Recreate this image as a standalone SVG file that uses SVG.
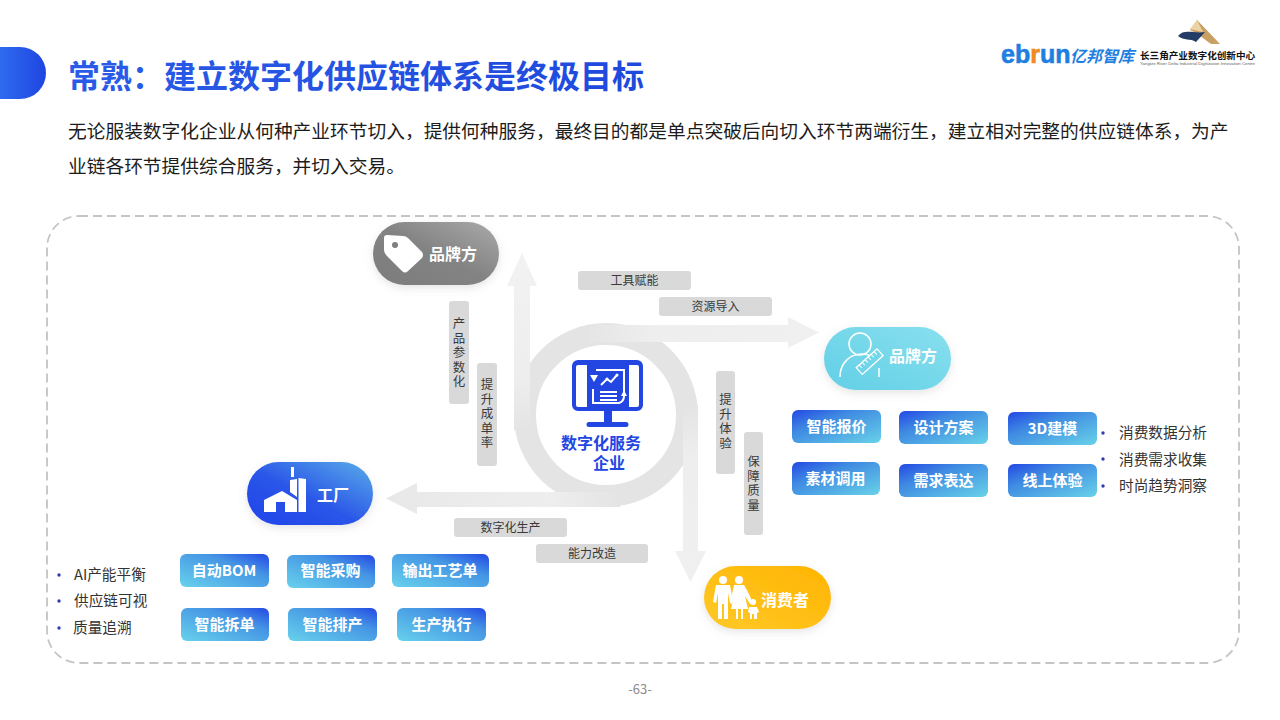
<svg xmlns="http://www.w3.org/2000/svg" width="1280" height="720" viewBox="0 0 1280 720">
<defs>
<linearGradient id="gTitle" x1="0" y1="0" x2="1" y2="0"><stop offset="0" stop-color="#2a5be8"/><stop offset="1" stop-color="#1f49dd"/></linearGradient>
<linearGradient id="gTab" x1="0" y1="0" x2="1" y2="0"><stop offset="0" stop-color="#2e6bf0"/><stop offset="1" stop-color="#1f45e0"/></linearGradient>
<linearGradient id="gRight" x1="0" y1="0" x2="1" y2="1"><stop offset="0" stop-color="#2348e4"/><stop offset=".35" stop-color="#3f8ae2"/><stop offset="1" stop-color="#68d2e8"/></linearGradient>
<linearGradient id="gLeft" x1="0" y1="1" x2="1" y2="0"><stop offset="0" stop-color="#68d2ec"/><stop offset=".65" stop-color="#4595e4"/><stop offset="1" stop-color="#2348e4"/></linearGradient>
<linearGradient id="gGray" x1="0" y1="1" x2="1" y2="0"><stop offset="0" stop-color="#7c7c7c"/><stop offset=".5" stop-color="#838383"/><stop offset="1" stop-color="#aaaaaa"/></linearGradient>
<linearGradient id="gCyan" x1="0" y1="1" x2="1" y2="0"><stop offset="0" stop-color="#62cfe6"/><stop offset="1" stop-color="#88e0ee"/></linearGradient>
<linearGradient id="gBlue" x1="0" y1="1" x2="1" y2="0"><stop offset="0" stop-color="#2044ea"/><stop offset=".45" stop-color="#2a55e8"/><stop offset="1" stop-color="#58ade8"/></linearGradient>
<linearGradient id="gYellow" x1="0" y1="1" x2="1" y2="0"><stop offset="0" stop-color="#ffc928"/><stop offset="1" stop-color="#ffb400"/></linearGradient>
<linearGradient id="aUp" gradientUnits="userSpaceOnUse" x1="0" y1="430" x2="0" y2="253"><stop offset="0" stop-color="#e4e4e4"/><stop offset=".3" stop-color="#eeeeee"/><stop offset="1" stop-color="#f2f2f2"/></linearGradient>
<linearGradient id="aRight" gradientUnits="userSpaceOnUse" x1="580" y1="0" x2="820" y2="0"><stop offset="0" stop-color="#e4e4e4"/><stop offset=".3" stop-color="#eeeeee"/><stop offset="1" stop-color="#f0f0f0"/></linearGradient>
<linearGradient id="aDown" gradientUnits="userSpaceOnUse" x1="0" y1="405" x2="0" y2="582"><stop offset="0" stop-color="#e4e4e4"/><stop offset=".3" stop-color="#eeeeee"/><stop offset="1" stop-color="#f0f0f0"/></linearGradient>
<linearGradient id="aLeft" gradientUnits="userSpaceOnUse" x1="620" y1="0" x2="386" y2="0"><stop offset="0" stop-color="#e4e4e4"/><stop offset=".3" stop-color="#eeeeee"/><stop offset="1" stop-color="#e8e8e8"/></linearGradient>
<filter id="soft" x="-20%" y="-30%" width="140%" height="170%"><feDropShadow dx="0" dy="3" stdDeviation="4" flood-color="#888" flood-opacity=".22"/></filter>
</defs>
<style>
text{font-family:"Noto Sans CJK SC","Noto Sans",sans-serif}
.body{font-size:18.73px;fill:#1c1c1c}
.tag{fill:#d9d9d9}
.tagt{font-size:12px;fill:#3a3a3a;text-anchor:middle}
.vt{font-size:12.5px;fill:#3a3a3a;writing-mode:vertical-rl;letter-spacing:2px}
.btn{font-size:15px;font-weight:700;fill:#fff;text-anchor:middle}
.pill{font-size:16px;font-weight:700;fill:#fff}
.li{font-size:14.67px;fill:#333}
.dot{fill:#2b3fb0}
.ring{fill:none;stroke:#e4e4e4;stroke-width:22}
.w{fill:#fff}
.ln{fill:none;stroke:#fff;stroke-width:2}
</style>
<rect width="1280" height="720" fill="#fff"/>

<path d="M0 47H20A26 26 0 0 1 46 73A26 26 0 0 1 20 99H0Z" fill="url(#gTab)"/>
<text x="68" y="88" font-size="32" font-weight="700" fill="url(#gTitle)">常熟：建立数字化供应链体系是终极目标</text>
<text class="body" x="68" y="138">无论服装数字化企业从何种产业环节切入，提供何种服务，最终目的都是单点突破后向切入环节两端衍生，建立相对完整的供应链体系，为产</text>
<text class="body" x="68" y="173">业链各环节提供综合服务，并切入交易。</text>

<g id="logo">
<text x="1001" y="63" font-size="25" font-weight="700" fill="#1f7fe0" stroke="#1f7fe0" stroke-width=".6" style="font-family:'Liberation Sans',sans-serif">eb<tspan fill="#f08a24" stroke="#f08a24">r</tspan>un</text>
<text x="1070" y="62" font-size="16" font-weight="700" font-style="italic" fill="#1f7fe0">亿邦智库</text>
<path d="M1197 20L1220 44H1211L1196 33L1190 30Z" fill="#c9a064"/>
<path d="M1178 36C1184 28 1194 34 1205 32L1196 42C1190 38 1184 41 1178 36Z" fill="#233c66"/>
<path d="M1190 29L1197 20L1203 32Z" fill="#ecd3a4"/>
<text x="1140" y="59" font-size="9.600" font-weight="700" fill="#111">长三角产业数字化创新中心</text>
<text x="1140" y="65" font-size="4.400" fill="#666" style="font-family:'Liberation Sans',sans-serif" textLength="115">Yangtze River Delta Industrial Digitization Innovation Centre</text>
</g>

<rect id="frame" x="47" y="216" width="1192" height="447" rx="32" fill="none" stroke="#c4c4c4" stroke-width="1.800" stroke-dasharray="9 5"/>

<g id="connectors">
<circle class="ring" cx="606" cy="415" r="81"/>
<path fill="url(#aUp)" d="M514 430V286H507L522 253L537 286H530V430Z"/>
<path fill="url(#aRight)" d="M590 325H788V317L819 332.500L788 348V342H590Z"/>
<path fill="url(#aDown)" d="M683 405H698V551H706L690.500 582L675 551H683Z"/>
<path fill="url(#aLeft)" d="M620 492V507H417V514L386 498.500L417 483V492Z"/>
</g>

<g id="node-center">
<path fill="#2346e2" d="M578 360H637A6 6 0 0 1 643 366V405A6 6 0 0 1 637 411H612V422H626A2.500 2.500 0 0 1 626 427H589A2.500 2.500 0 0 1 589 422H604V411H578A6 6 0 0 1 572 405V366A6 6 0 0 1 578 360Z"/>
<path class="w" d="M578 365H587V407H578A2 2 0 0 1 576 405V367A2 2 0 0 1 578 365Z"/>
<path class="w" d="M629 365H637A2 2 0 0 1 639 367V405A2 2 0 0 1 637 407H629Z"/>
<path class="ln" d="M596 370H624V392"/>
<path class="ln" d="M593 389V403H619C622 402 624 400 624 396"/>
<path class="ln" d="M601 385L607 379L611 382L617 375" stroke-width="1.800"/>
<path class="ln" d="M600 392H617M600 396H617M600 400H617" stroke-width="1.500"/>
<path class="w" d="M590 375H598L594 382Z M627 396L624 390L621 396Z"/>
<circle class="w" cx="607" cy="379" r="1.500"/><circle class="w" cx="617" cy="375" r="1.500"/>
<text font-size="16" font-weight="700" fill="#2346e2" text-anchor="middle"><tspan x="601" y="449">数字化服务</tspan><tspan x="609" y="469">企业</tspan></text>
</g>

<g id="label-tools"><rect class="tag" x="578" y="271" width="113" height="19" rx="3"/><text class="tagt" x="634.500" y="285">工具赋能</text></g>
<g id="label-res"><rect class="tag" x="659" y="297" width="113" height="19" rx="3"/><text class="tagt" x="715.500" y="311">资源导入</text></g>
<g id="label-prod"><rect class="tag" x="454" y="518" width="113" height="19" rx="3"/><text class="tagt" x="510.500" y="532">数字化生产</text></g>
<g id="label-cap"><rect class="tag" x="536" y="544" width="112" height="19" rx="3"/><text class="tagt" x="592" y="558">能力改造</text></g>
<g id="label-param"><rect class="tag" x="449" y="301" width="20" height="103" rx="3"/><text class="vt" x="459" y="317">产品参数化</text></g>
<g id="label-conv"><rect class="tag" x="477" y="363" width="20" height="103" rx="3"/><text class="vt" x="487" y="378">提升成单率</text></g>
<g id="label-exp"><rect class="tag" x="716" y="371" width="19" height="103" rx="3"/><text class="vt" x="725.500" y="393">提升体验</text></g>
<g id="label-qual"><rect class="tag" x="744" y="432" width="19" height="103" rx="3"/><text class="vt" x="753.500" y="455">保障质量</text></g>

<g id="node-brand">
<rect x="373" y="222" width="126" height="63" rx="31.500" fill="url(#gGray)" filter="url(#soft)"/>
<path class="w" d="M387 235L403 236Q406 236 408 238L422 252Q424 255 422 258L408 271Q405 274 402 271L387 256Q384 253 384 250L384 238Q384 235 387 235Z"/>
<circle cx="395" cy="245" r="3" fill="#7f7f7f"/>
<text class="pill" x="429" y="260">品牌方</text>
</g>

<g id="node-designer">
<rect x="824" y="327" width="127" height="63" rx="31.500" fill="url(#gCyan)" filter="url(#soft)"/>
<circle cx="860" cy="344" r="11" fill="none" stroke="#fff" stroke-width="1.500"/>
<path d="M840 377C840 364 849 354 862 354C865 354 868 354 870 356M879 368V377" fill="none" stroke="#fff" stroke-width="1.500"/>
<g transform="rotate(-42 870 362)"><rect x="856" y="357" width="28" height="9" fill="none" stroke="#fff" stroke-width="1.300"/><path d="M860 357V361M864 357V361M868 357V361M872 357V361M876 357V361M880 357V361" stroke="#fff" stroke-width="1"/></g>
<text class="pill" x="889" y="362">品牌方</text>
</g>

<g id="node-factory">
<rect x="247" y="462" width="126" height="63" rx="31.500" fill="url(#gBlue)" filter="url(#soft)"/>
<path class="w" d="M264 500L282 491L297 500V512H285V502H276V512H264Z"/>
<path class="w" d="M291 467H294V477H291Z M290 480L297 479V497L290 492Z M298.500 478L306 479V512H298.500Z"/>
<text class="pill" x="317" y="501">工厂</text>
</g>

<g id="node-consumer">
<rect x="704" y="566" width="127" height="63" rx="31.500" fill="url(#gYellow)" filter="url(#soft)"/>
<g class="w">
<circle cx="723" cy="580" r="4"/><circle cx="739" cy="580" r="4"/><circle cx="753" cy="602" r="3"/>
<path d="M716 585H730L733 602L730 603L728 593V619H724V604H722V619H718V593L716 603L713 602Z"/>
<path d="M734 585H744L748 592L753 603L750 604L745 596L748 609H743V619H741V609H738V619H736V609H731L734 596L732 604L730 603Z"/>
<path d="M749 607H757L759 612L757 613V619H754V614H752V619H750V613L748 612Z"/>
</g>
<text class="pill" x="761" y="606">消费者</text>
</g>

<g id="right-buttons">
<g><rect x="792" y="410" width="89" height="33" rx="6" fill="url(#gRight)"/><text class="btn" x="836.500" y="432">智能报价</text></g>
<g><rect x="899" y="411" width="89" height="33" rx="6" fill="url(#gRight)"/><text class="btn" x="943.500" y="433">设计方案</text></g>
<g><rect x="1008" y="412" width="89" height="33" rx="6" fill="url(#gRight)"/><text class="btn" x="1052.500" y="434">3D建模</text></g>
<g><rect x="792" y="462" width="88" height="33" rx="6" fill="url(#gRight)"/><text class="btn" x="835.500" y="484">素材调用</text></g>
<g><rect x="899" y="464" width="89" height="33" rx="6" fill="url(#gRight)"/><text class="btn" x="943.500" y="486">需求表达</text></g>
<g><rect x="1008" y="464" width="89" height="33" rx="6" fill="url(#gRight)"/><text class="btn" x="1052.500" y="486">线上体验</text></g>
</g>

<g id="left-buttons">
<g><rect x="180" y="554" width="89" height="33" rx="6" fill="url(#gLeft)"/><text class="btn" x="224" y="576">自动BOM</text></g>
<g><rect x="287" y="555" width="88" height="33" rx="6" fill="url(#gLeft)"/><text class="btn" x="330.500" y="576">智能采购</text></g>
<g><rect x="392" y="554" width="97" height="33" rx="6" fill="url(#gLeft)"/><text class="btn" x="440" y="576">输出工艺单</text></g>
<g><rect x="181" y="608" width="88" height="33" rx="6" fill="url(#gLeft)"/><text class="btn" x="224.500" y="630">智能拆单</text></g>
<g><rect x="288" y="608" width="89" height="33" rx="6" fill="url(#gLeft)"/><text class="btn" x="332.500" y="630">智能排产</text></g>
<g><rect x="397" y="608" width="89" height="33" rx="6" fill="url(#gLeft)"/><text class="btn" x="441.500" y="630">生产执行</text></g>
</g>

<g id="list-right">
<circle class="dot" cx="1103" cy="433" r="1.700"/><text class="li" x="1119" y="438">消费数据分析</text>
<circle class="dot" cx="1103" cy="459" r="1.700"/><text class="li" x="1119" y="465">消费需求收集</text>
<circle class="dot" cx="1103" cy="486" r="1.700"/><text class="li" x="1119" y="491">时尚趋势洞察</text>
</g>
<g id="list-left">
<circle class="dot" cx="59" cy="575" r="1.700"/><text class="li" x="74" y="580">AI产能平衡</text>
<circle class="dot" cx="59" cy="601" r="1.700"/><text class="li" x="74" y="606">供应链可视</text>
<circle class="dot" cx="59" cy="628" r="1.700"/><text class="li" x="73" y="633">质量追溯</text>
</g>
<text x="640" y="694" font-size="13" fill="#8a8a8a" text-anchor="middle">-63-</text>
</svg>
